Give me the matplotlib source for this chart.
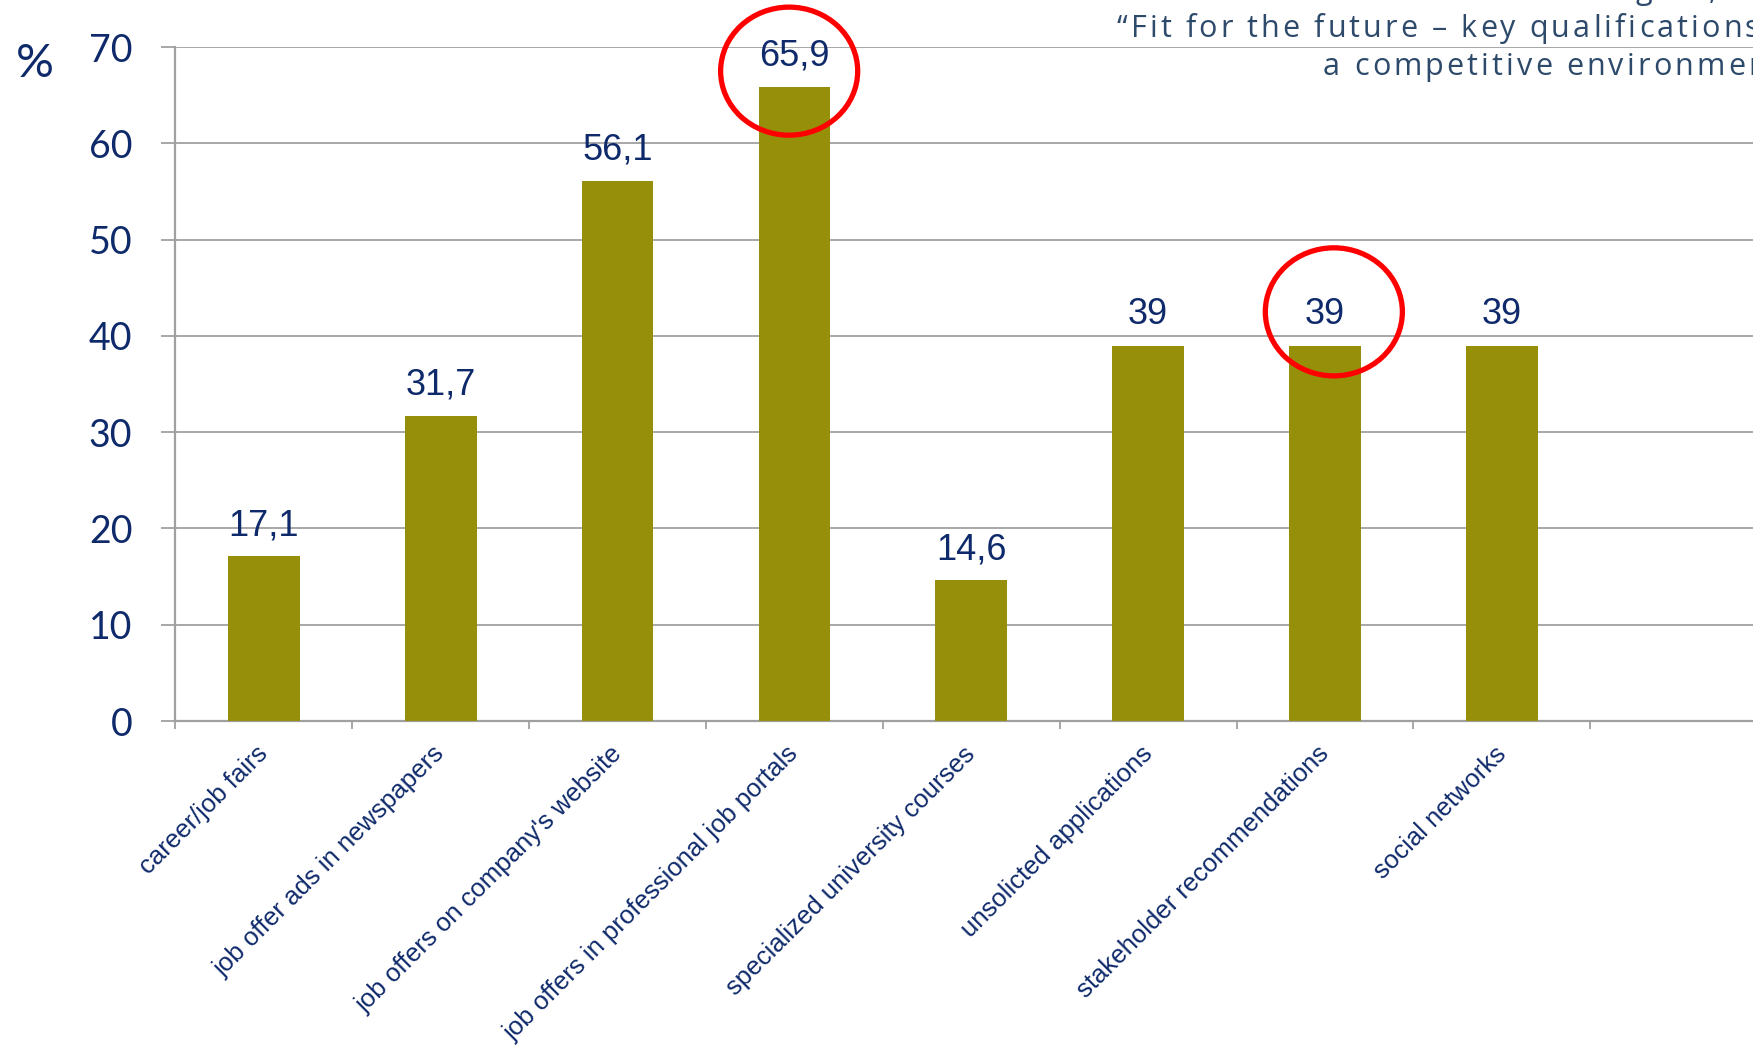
import matplotlib.pyplot as plt
from matplotlib.patches import Ellipse
from matplotlib.font_manager import FontProperties
from matplotlib.transforms import IdentityTransform, ScaledTranslation

# data
categorias = ["career/job fairs", "job offer ads in newspapers",
              "job offers on company's website",
              "job offers in professional job portals",
              "specialized university courses", "unsolicted applications",
              "stakeholder recommendations", "social networks"]
valores = [17.1, 31.7, 56.1, 65.9, 14.6, 39, 39, 39]
etiquetas = ["17,1", "31,7", "56,1", "65,9", "14,6", "39", "39", "39"]
marcados = [3, 6]  # bars with a red circle
titulo = ["Interviews with managers, Leonardo partners",
          "\u201cFit for the future \u2013 key qualifications in",
          "a competitive environment\u201d"]

azul = '#0f2a6b'
gris = '#a0a0a0'
W, H = 1753, 1058

fig = plt.figure(figsize=(W / 100, H / 100), dpi=100)
ax = fig.add_axes([0.1001, 0.3185, 0.8999, 0.637])

x = list(range(len(valores)))
ax.bar(x, valores, width=0.405, color='#968f0a', zorder=3)
ax.set_xlim(-0.5, 8.42)
ax.set_ylim(0, 70)

# valores encima de las barras
for i in x:
    ax.annotate(etiquetas[i], (i, valores[i]), xytext=(0, 22),
                textcoords='offset points', ha='center', va='center',
                fontsize=26, color=azul, family='Liberation Sans', zorder=5)

# circulos rojos (dibujados a mano en el original, algo desplazados)
desplaz = {3: (-0.03, 1.6), 6: (0.05, 3.5)}
for i in marcados:
    dx, dy = desplaz[i]
    ax.add_patch(Ellipse((i + dx, valores[i] + dy), 0.775, 13.3, fill=False,
                         edgecolor='#ff0000', linewidth=3.8, zorder=6,
                         clip_on=False))

# grilla y ejes
ax.set_yticks(range(0, 71, 10))
ax.yaxis.grid(True, color=gris, linewidth=1.3, zorder=0)
for s in ['top', 'right']:
    ax.spines[s].set_visible(False)
for s in ['left', 'bottom']:
    ax.spines[s].set_color(gris)
    ax.spines[s].set_linewidth(1.6)
ax.tick_params(axis='y', length=10, width=1.3, color=gris, pad=21,
               labelsize=27, labelcolor=azul)
for t in ax.get_yticklabels():
    t.set_family('Lato')

ax.set_xticks([i - 0.5 for i in range(9)])
ax.set_xticklabels([])
ax.tick_params(axis='x', length=6, width=1.3, color=gris)
ax.set_xticks(x, minor=True)
ax.set_xticklabels(categorias, minor=True, rotation=45, ha='right',
                   va='top', fontsize=18.5, color=azul,
                   family='Liberation Sans')
ax.tick_params(axis='x', which='minor', length=0, pad=15)
mover = ScaledTranslation(9 / 100, 0, fig.dpi_scale_trans)
for t in ax.get_xticklabels(minor=True):
    t.set_transform(t.get_transform() + mover)

fig.text(16 / W, 1 - 64 / H, '%', fontsize=34, color=azul, family='Lato',
         va='center', ha='left')

# titulo cortado arriba a la derecha, con letras espaciadas
tcol = '#2e4a6b'
fp = FontProperties(family='Open Sans', size=22)
rend = fig.canvas.get_renderer()


def ancho(s):
    return rend.get_text_width_height_descent(s, fp, ismath=False)[0]


def texto_espaciado(s, x0, base, track):
    pos = x0
    ref = ancho('xx')
    for ch in s:
        if pos > W:
            break
        fig.text(pos, H - base, ch, fontproperties=fp, color=tcol,
                 va='baseline', ha='left', transform=IdentityTransform())
        pos += ancho('x' + ch + 'x') - ref + track


texto_espaciado(titulo[0], 1270, -1, 3.1)
texto_espaciado(titulo[1], 1117, 37, 3.1)
texto_espaciado(titulo[2], 1323, 75, 3.1)

fig.savefig('out.png', dpi=100)
